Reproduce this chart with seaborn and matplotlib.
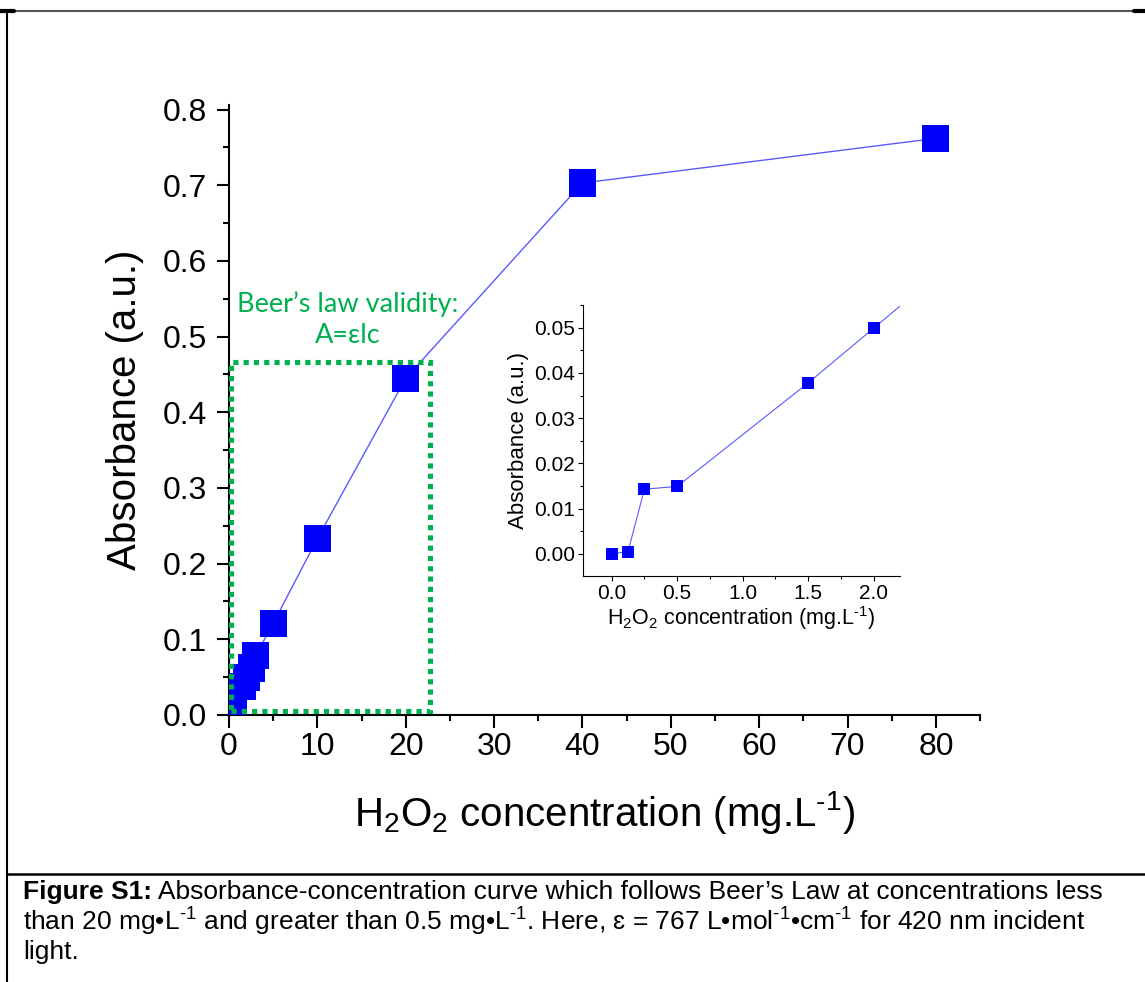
import numpy as np
import pandas as pd
import seaborn as sns
import matplotlib.pyplot as plt
from matplotlib.patches import Rectangle
from matplotlib.lines import Line2D
from matplotlib.ticker import MultipleLocator, FormatStrFormatter

# data
conc = [0, 0.125, 0.25, 0.5, 1.5, 2.0, 2.5, 3.0, 5, 10, 20, 40, 80]
absorbance = [0.0, 0.0005, 0.0143, 0.0149, 0.0378, 0.0499, 0.062, 0.078,
              0.121, 0.233, 0.445, 0.703, 0.762]

box_x = [0.2, 22.7]
box_y = [0.005, 0.467]

HY = "\u2010"  # hyphen used for the -1 exponents
caption_bold = "Figure S1:"
caption_lines = [
    " Absorbance-concentration curve which follows Beer\u2019s Law at concentrations less",
    f"than 20 mg\u2022L$^{{{HY}1}}$ and greater than 0.5 mg\u2022L$^{{{HY}1}}$. Here, \u025b = 767 "
    f"L\u2022mol$^{{{HY}1}}$\u2022cm$^{{{HY}1}}$ for 420 nm incident",
    "light.",
]
xlabel = f"H$_2$O$_2$ concentration (mg.L$^{{{HY}1}}$)"

df = pd.DataFrame({"conc": conc, "abs": absorbance})

sns.set_style("ticks")
plt.rcParams["font.family"] = ["Liberation Sans", "DejaVu Sans"]
plt.rcParams["mathtext.fontset"] = "custom"
plt.rcParams["mathtext.rm"] = "Liberation Sans"
plt.rcParams["mathtext.it"] = "Liberation Sans:italic"
plt.rcParams["mathtext.bf"] = "Liberation Sans:bold"
plt.rcParams["text.color"] = "black"
plt.rcParams["axes.labelcolor"] = "black"
plt.rcParams["xtick.color"] = "black"
plt.rcParams["ytick.color"] = "black"

line_col = "#5a5aff"
mark_col = "#0000ff"
green = "#00b050"

fig = plt.figure(figsize=(11.45, 9.82), dpi=100)

# ---- main axes
ax = fig.add_axes([0.2, 0.272, 0.656, 0.621])
sns.lineplot(data=df, x="conc", y="abs", color=line_col, lw=1.0, ax=ax)
sns.scatterplot(data=df, x="conc", y="abs", marker="s", s=380, color=mark_col,
                edgecolor="none", ax=ax, zorder=3)
ax.set_xlim(0, 85)
ax.set_ylim(0, 0.806)
ax.xaxis.set_major_locator(MultipleLocator(10))
ax.xaxis.set_minor_locator(MultipleLocator(5))
ax.yaxis.set_major_locator(MultipleLocator(0.1))
ax.yaxis.set_minor_locator(MultipleLocator(0.05))
ax.yaxis.set_major_formatter(FormatStrFormatter("%.1f"))
for s in ["top", "right"]:
    ax.spines[s].set_visible(False)
for s in ["left", "bottom"]:
    ax.spines[s].set_linewidth(1.5)
    ax.spines[s].set_color("black")
ax.tick_params(which="major", direction="out", length=9, width=1.5,
               labelsize=23, colors="black")
ax.tick_params(which="minor", direction="out", length=4.5, width=1.5)
ax.tick_params(axis="x", pad=3)
ax.tick_params(axis="y", pad=7)
ax.set_xlabel(xlabel, fontsize=29, labelpad=20)
ax.set_ylabel("Absorbance (a.u.)", fontsize=29, labelpad=13)

ax.add_patch(Rectangle((box_x[0], box_y[0]), box_x[1] - box_x[0], box_y[1] - box_y[0],
                       fill=False, edgecolor=green, lw=3.7, linestyle=(0, (1, 1)),
                       clip_on=False, zorder=4))
ax.text(13.4, 0.523, "Beer\u2019s law validity:\nA=\u03b5lc", color=green,
        fontsize=19.5, family=["Lato", "DejaVu Sans"], ha="center", va="center",
        linespacing=1.3)

# ---- inset
ins = fig.add_axes([0.509, 0.4134, 0.277, 0.276])
sns.lineplot(data=df, x="conc", y="abs", color=line_col, lw=0.8, ax=ins)
sns.scatterplot(data=df, x="conc", y="abs", marker="s", s=75, color=mark_col,
                edgecolor="none", ax=ins, zorder=3)
ins.set_xlim(-0.22, 2.2)
ins.set_ylim(-0.0049, 0.055)
ins.xaxis.set_major_locator(MultipleLocator(0.5))
ins.xaxis.set_minor_locator(MultipleLocator(0.25))
ins.yaxis.set_major_locator(MultipleLocator(0.01))
ins.yaxis.set_minor_locator(MultipleLocator(0.005))
ins.xaxis.set_major_formatter(FormatStrFormatter("%.1f"))
ins.yaxis.set_major_formatter(FormatStrFormatter("%.2f"))
for s in ["top", "right"]:
    ins.spines[s].set_visible(False)
for s in ["left", "bottom"]:
    ins.spines[s].set_linewidth(0.8)
    ins.spines[s].set_color("black")
ins.tick_params(which="major", direction="out", length=3.5, width=0.8,
                labelsize=15, colors="black", pad=2)
ins.tick_params(which="minor", direction="out", length=2, width=0.8)
ins.set_xlabel(xlabel, fontsize=15.5, labelpad=1)
ins.set_ylabel("Absorbance (a.u.)", fontsize=16, labelpad=4)

# ---- frame lines and caption
H = 982.0
W = 1145.0
fig.add_artist(Line2D([7 / W, 1.0], [1 - 11 / H, 1 - 11 / H], color="#555555", lw=1.5))
fig.add_artist(Line2D([1134 / W, 1.0], [1 - 11 / H, 1 - 11 / H], color="black", lw=3))
fig.add_artist(Line2D([0, 14 / W], [1 - 11 / H, 1 - 11 / H], color="black", lw=3))
fig.add_artist(Line2D([7 / W, 7 / W], [0, 1 - 10 / H], color="black", lw=1.5))
fig.add_artist(Line2D([7 / W, 1.0], [1 - 874 / H, 1 - 874 / H], color="black", lw=1.8))

cap_size = 19
t0 = fig.text(23 / W, 1 - 892 / H, caption_bold, fontsize=cap_size, fontweight="bold",
              va="center", ha="left")
fig.canvas.draw()
bb = t0.get_window_extent()
fig.text(bb.x1 / W, 1 - 892 / H, caption_lines[0], fontsize=cap_size, va="center", ha="left")
fig.text(23 / W, 1 - 922 / H, caption_lines[1], fontsize=cap_size, va="center", ha="left")
fig.text(23 / W, 1 - 952 / H, caption_lines[2], fontsize=cap_size, va="center", ha="left")

fig.savefig("out.png", dpi=100, facecolor="white")
